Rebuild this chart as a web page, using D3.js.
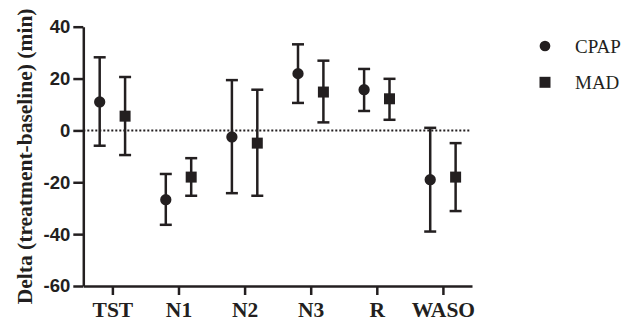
<!DOCTYPE html>
<html>
<head>
<meta charset="utf-8">
<script src="https://cdn.jsdelivr.net/npm/d3@7"></script>
<style>
  body { margin: 0; background: #fff; }
  svg { display: block; }
</style>
</head>
<body>
<div id="chart"></div>
<script>
const categories = ["TST", "N1", "N2", "N3", "R", "WASO"];
const seriesNames = ["CPAP", "MAD"];

// mean, upper, lower for each category
const cpapMean = [11, -26.7, -2.5, 21.9, 15.7, -19];
const cpapHigh = [28.2, -16.8, 19.4, 33.2, 23.7, 1.0];
const cpapLow = [-5.9, -36.4, -24.2, 10.6, 7.5, -39];

const madMean = [5.5, -18, -4.9, 14.8, 12.2, -18];
const madHigh = [20.6, -10.7, 15.7, 26.9, 19.9, -4.9];
const madLow = [-9.5, -25.2, -25.2, 3.1, 4.1, -31.1];

const yTicks = [-60, -40, -20, 0, 20, 40];

const W = 625, H = 321;
const ink = "#231f20";
const offset = 12.7;
const serif = "'Liberation Serif', 'Times New Roman', Times, serif";

const svg = d3.select("#chart")
    .append("svg")
    .attr("width", W)
    .attr("height", H);

const x = d3.scalePoint()
    .domain(categories)
    .range([83.3, 472])
    .padding(0.44);

const y = d3.scaleLinear()
    .domain([-60, 40])
    .range([286, 26.7]);

// zero reference line
svg.append("line")
    .attr("x1", x.range()[0]).attr("x2", 470)
    .attr("y1", y(0)).attr("y2", y(0))
    .attr("stroke", ink)
    .attr("stroke-width", 2)
    .attr("stroke-dasharray", "2,2");

// Y axis
const yAxis = svg.append("g")
    .attr("transform", `translate(${x.range()[0]},0)`)
    .call(d3.axisLeft(y).tickValues(yTicks).tickFormat(d => String(d))
        .tickSize(10).tickPadding(3).tickSizeOuter(0));
yAxis.select(".domain").attr("stroke", ink).attr("stroke-width", 2.5);
yAxis.selectAll(".tick line").attr("stroke", ink).attr("stroke-width", 2.5);
yAxis.selectAll("text")
    .attr("fill", ink)
    .style("font-family", "'Liberation Sans', Arial, sans-serif")
    .style("font-weight", "bold")
    .style("font-size", "18.5px");

// X axis
const xAxis = svg.append("g")
    .attr("transform", `translate(0,${y(-60)})`)
    .call(d3.axisBottom(x).tickSize(9).tickPadding(7).tickSizeOuter(0));
xAxis.select(".domain").attr("stroke", ink).attr("stroke-width", 2.5);
xAxis.selectAll(".tick line").attr("stroke", ink).attr("stroke-width", 2.5);
xAxis.selectAll("text")
    .attr("fill", ink)
    .style("font-family", serif)
    .style("font-weight", "bold")
    .style("font-size", "21.5px");

// Y title
svg.append("text")
    .attr("transform", `translate(32,${(y(40) + y(-60)) / 2}) rotate(-90)`)
    .attr("text-anchor", "middle")
    .attr("fill", ink)
    .style("font-family", serif)
    .style("font-weight", "bold")
    .style("font-size", "21.5px")
    .text("Delta (treatment-baseline) (min)");

const series = [
    { name: "CPAP", dx: -offset, mean: cpapMean, hi: cpapHigh, lo: cpapLow, shape: d3.symbolCircle },
    { name: "MAD", dx: offset, mean: madMean, hi: madHigh, lo: madLow, shape: d3.symbolSquare }
];

series.forEach(s => {
    const rows = categories.map((c, i) => ({ c, mean: s.mean[i], hi: s.hi[i], lo: s.lo[i] }));
    const g = svg.append("g");

    // whiskers
    g.selectAll(".whisker")
        .data(rows)
        .enter()
        .append("line")
        .attr("x1", d => x(d.c) + s.dx).attr("x2", d => x(d.c) + s.dx)
        .attr("y1", d => y(d.hi)).attr("y2", d => y(d.lo))
        .attr("stroke", ink).attr("stroke-width", 2.5);

    // caps
    ["hi", "lo"].forEach(k => {
        g.selectAll(".cap-" + k)
            .data(rows)
            .enter()
            .append("line")
            .attr("x1", d => x(d.c) + s.dx - 6).attr("x2", d => x(d.c) + s.dx + 6)
            .attr("y1", d => y(d[k])).attr("y2", d => y(d[k]))
            .attr("stroke", ink).attr("stroke-width", 2.5);
    });

    // markers
    g.selectAll(".marker")
        .data(rows)
        .enter()
        .append("path")
        .attr("transform", d => `translate(${x(d.c) + s.dx},${y(d.mean)})`)
        .attr("d", d3.symbol().type(s.shape).size(s.shape === d3.symbolCircle ? 100 : 121))
        .attr("fill", ink);
});

// legend
const legend = svg.append("g");
series.forEach((s, i) => {
    const ly = 46 + i * 36.3;
    legend.append("path")
        .attr("transform", `translate(545,${ly})`)
        .attr("d", d3.symbol().type(s.shape).size(s.shape === d3.symbolCircle ? 90 : 121))
        .attr("fill", ink);
    legend.append("text")
        .attr("x", 575)
        .attr("y", ly + 6.5)
        .attr("fill", ink)
        .style("font-family", serif)
        .style("font-size", "19px")
        .text(s.name);
});
</script>
</body>
</html>
